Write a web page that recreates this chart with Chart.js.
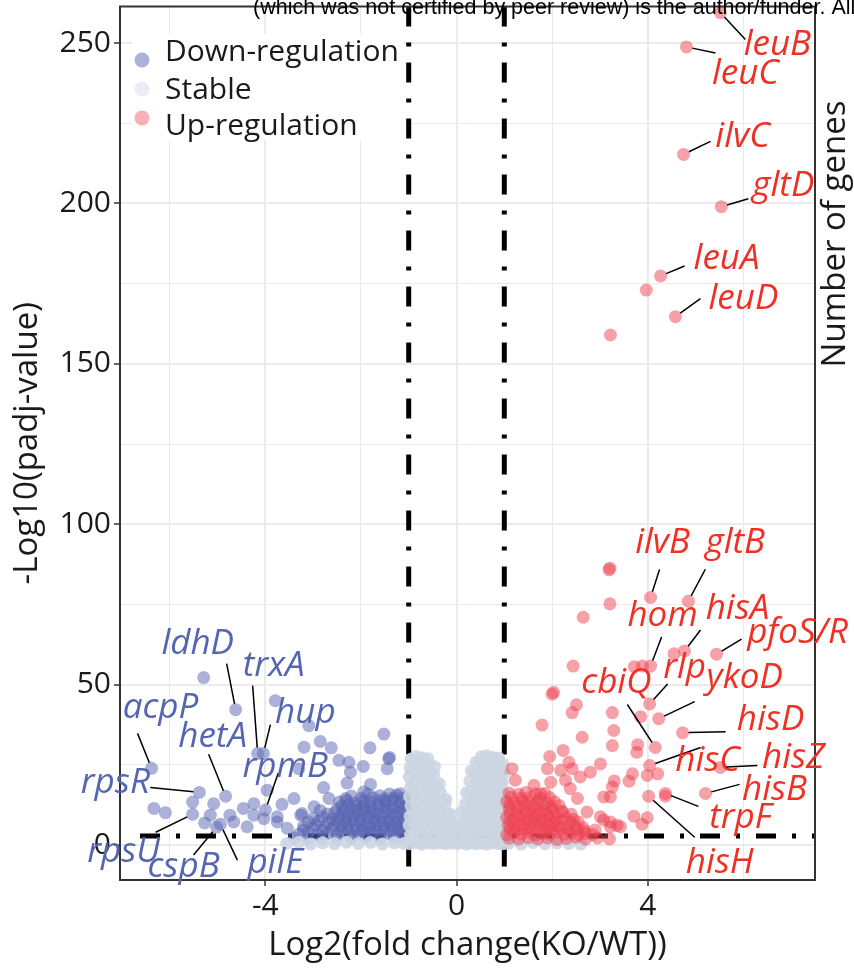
<!DOCTYPE html>
<html>
<head>
<meta charset="utf-8">
<title>Volcano plot KO vs WT</title>
<script src="https://cdn.jsdelivr.net/npm/chart.js@4.4.1/dist/chart.umd.min.js"></script>
<style>
  html, body { margin: 0; padding: 0; background: #fff; }
  #wrap { position: relative; width: 854px; height: 970px; }
</style>
</head>
<body>
<div id="wrap"><canvas id="volcano" width="854" height="970"></canvas></div>
<script>
// axis ticks
const xTicks = [-6, -4, -2, 0, 2, 4, 6];
const yTicks = [0, 25, 50, 75, 100, 125, 150, 175, 200, 225, 250];

// named genes: log2 fold change and -log10(padj)
const geneNames = ['leuB', 'leuC', 'ilvC', 'gltD', 'leuA', 'leuD', 'ilvB', 'gltB', 'hom', 'hisA',
  'pfoS/R', 'rlp', 'ykoD', 'cbiQ', 'hisD', 'hisC', 'hisZ', 'hisB', 'trpF', 'hisH',
  'ldhD', 'trxA', 'hup', 'acpP', 'rpsR', 'hetA', 'rpmB', 'rpsU', 'cspB', 'pilE'];
const geneFC = [5.52, 4.81, 4.75, 5.54, 4.27, 4.58, 4.06, 4.85, 4.06, 4.77,
  5.44, 4.04, 4.23, 4.16, 4.73, 4.04, 5.52, 5.21, 4.37, 4.02,
  -4.62, -4.16, -4.04, -6.38, -5.38, -4.83, -4.00, -5.52, -5.02, -4.94];
const geneLogP = [259.5, 248.8, 215.3, 199.0, 177.4, 164.7, 77.2, 76.0, 55.8, 60.5,
  59.5, 44.0, 39.4, 30.4, 35.0, 24.8, 24.2, 16.1, 16.1, 15.2,
  42.2, 28.5, 28.5, 23.9, 16.4, 15.2, 10.9, 9.6, 5.6, 6.5];

// up-regulated (unnamed)
const upFC = [3.97, 3.22, 3.19, 3.21, 3.21, 2.65, 3.72, 3.89, 4.55,
  2.44, 2.00, 2.03, 2.51, 2.42, 1.79, 3.26, 2.63, 3.29, 3.26, 2.23, 1.95, 2.35, 3.01,
  1.16, 1.90, 2.18, 2.42, 2.80, 1.23, 1.62, 1.97, 2.28, 2.59, 2.38, 1.76, 2.53, 3.08,
  3.22, 2.73, 3.01, 3.22, 3.36, 3.85, 3.79, 3.77, 3.68, 3.61, 3.99, 4.21, 4.37, 3.71,
  3.99, 3.88, 3.08, 3.22, 3.43, 3.30, 3.26,
  1.10, 1.30, 1.50, 1.70, 1.90, 2.10, 2.30, 2.50, 2.70, 2.95, 3.20,
  1.05, 1.20, 1.35, 1.50, 1.65, 1.80, 1.95, 2.10, 2.25, 2.40, 2.55, 2.70, 2.85,
  1.12, 1.28, 1.42, 1.58, 1.72, 1.88, 2.02, 2.18, 2.35, 2.52, 2.68, 2.90,
  1.08, 1.22, 1.38, 1.52, 1.68, 1.83, 1.98, 2.12, 2.30, 2.48, 2.65,
  1.12, 1.28, 1.45, 1.60, 1.75, 1.90, 2.05, 2.20, 2.38, 2.55,
  1.05, 1.20, 1.35, 1.50, 1.65, 1.80, 1.95, 2.10, 2.28, 2.45,
  1.12, 1.28, 1.45, 1.60, 1.75, 1.90, 2.05, 2.22, 2.40,
  1.10, 1.25, 1.40, 1.55, 1.70, 1.85, 2.00, 2.20,
  1.12, 1.30, 1.45, 1.62, 1.80, 1.98, 2.15,
  1.05, 1.20, 1.38, 1.52, 1.70, 1.90, 2.05,
  1.15, 1.35, 1.55, 1.75, 1.95,
  1.10, 1.30, 1.45, 1.65, 1.85];
const upLogP = [173.0, 159.0, 85.8, 86.3, 75.2, 71.0, 55.6, 55.8, 59.6,
  55.8, 47.0, 47.6, 43.7, 41.3, 37.4, 41.3, 33.6, 35.7, 31.0, 29.5, 27.6, 25.8, 25.3,
  23.8, 23.8, 23.3, 23.8, 22.7, 20.2, 18.6, 19.6, 20.2, 21.2, 17.6, 16.0, 14.5, 15.0,
  15.0, 10.3, 8.8, 7.2, 6.2, 40.0, 31.3, 28.9, 22.2, 19.9, 21.7, 22.2, 15.2, 9.0,
  8.5, 6.5, 7.8, 5.7, 5.7, 20.0, 18.1,
  2.1, 1.8, 2.3, 1.9, 2.2, 1.7, 2.0, 2.4, 1.8, 2.2, 1.9,
  3.2, 3.8, 3.4, 3.9, 3.1, 3.6, 3.3, 3.9, 3.4, 3.7, 3.2, 3.6, 3.3,
  4.9, 4.6, 5.1, 4.7, 5.0, 4.5, 4.8, 5.2, 4.6, 4.9, 4.4, 4.7,
  6.1, 5.7, 6.4, 5.9, 6.3, 5.8, 6.2, 6.0, 5.6, 6.1, 5.4,
  7.4, 7.1, 7.6, 7.2, 7.5, 7.0, 7.3, 7.7, 7.1, 7.2,
  8.6, 8.2, 8.9, 8.4, 8.7, 8.1, 8.8, 8.3, 8.6, 8.0,
  9.9, 9.6, 10.1, 9.7, 10.0, 9.5, 9.8, 10.2, 9.6,
  11.2, 10.7, 11.4, 10.9, 11.3, 10.8, 11.1, 10.6,
  12.4, 12.1, 12.6, 12.2, 12.5, 12.0, 12.3,
  13.6, 13.2, 13.8, 13.3, 13.7, 13.1, 13.5,
  14.9, 14.6, 15.0, 14.7, 14.8,
  16.2, 15.8, 16.4, 15.9, 16.1];

// down-regulated (unnamed)
const downFC = [-5.29, -3.79, -6.33, -6.09, -5.52, -5.27, -5.08, -5.15, -4.74, -4.66,
  -4.46, -4.38, -4.24, -4.24, -4.03, -3.96, -3.65, -3.40, -3.23, -3.75, -3.54,
  -3.09, -3.19, -2.85, -2.62, -3.30, -2.78, -2.46, -2.25, -2.22, -1.95, -1.81,
  -1.52, -1.42, -1.40, -1.45, -2.29, -1.80, -1.94, -1.17, -2.67, -2.32, -3.75, -3.26, -2.98,
  -3.40, -3.10, -2.80, -2.50, -2.20, -1.90, -1.60, -1.30, -1.10,
  -3.30, -3.10, -2.90, -2.70, -2.50, -2.35, -2.20, -2.05, -1.90, -1.75, -1.60, -1.45, -1.30, -1.15, -1.05,
  -3.20, -3.00, -2.80, -2.60, -2.42, -2.28, -2.12, -1.98, -1.82, -1.68, -1.52, -1.38, -1.22, -1.10,
  -3.20, -2.95, -2.75, -2.55, -2.40, -2.25, -2.10, -1.95, -1.80, -1.65, -1.50, -1.35, -1.20, -1.07,
  -3.10, -2.88, -2.68, -2.50, -2.33, -2.18, -2.02, -1.88, -1.72, -1.58, -1.42, -1.28, -1.13,
  -3.00, -2.80, -2.60, -2.45, -2.30, -2.15, -2.00, -1.85, -1.70, -1.55, -1.40, -1.25, -1.10,
  -2.70, -2.55, -2.40, -2.25, -2.10, -1.95, -1.80, -1.65, -1.50, -1.35, -1.20, -1.07,
  -2.85, -2.50, -2.35, -2.20, -2.05, -1.90, -1.75, -1.60, -1.45, -1.30, -1.15,
  -2.40, -2.25, -2.10, -1.95, -1.80, -1.65, -1.50, -1.35, -1.20, -1.08,
  -2.45, -2.30, -2.10, -1.95, -1.80, -1.62, -1.48, -1.33, -1.18,
  -2.00, -1.75, -1.50, -1.32, -1.12,
  -2.20, -1.85, -1.60, -1.40, -1.25];
const downLogP = [52.2, 45.0, 11.4, 10.1, 13.4, 6.9, 12.9, 9.3, 9.3, 7.2,
  11.4, 5.7, 12.9, 9.3, 8.2, 17.1, 12.7, 14.5, 9.8, 7.2, 5.2,
  37.2, 30.5, 32.3, 30.3, 23.8, 17.9, 26.4, 25.8, 22.7, 24.5, 30.3,
  34.6, 26.9, 27.3, 23.8, 19.3, 18.9, 16.5, 16.0, 14.5, 14.5, 8.8, 9.3, 11.9,
  2.2, 1.9, 2.3, 1.8, 2.1, 2.4, 1.9, 2.2, 2.0,
  3.4, 3.9, 3.2, 3.7, 3.3, 3.8, 3.1, 3.6, 3.4, 3.9, 3.2, 3.7, 3.3, 3.8, 3.5,
  4.7, 5.0, 4.6, 4.9, 4.5, 5.1, 4.8, 4.6, 5.0, 4.7, 4.9, 4.5, 5.1, 4.8,
  5.8, 6.3, 5.6, 6.2, 5.9, 6.4, 5.7, 6.1, 5.8, 6.3, 5.9, 6.2, 5.7, 6.0,
  7.2, 7.5, 7.0, 7.4, 7.1, 7.6, 7.3, 7.0, 7.5, 7.2, 7.4, 7.1, 7.3,
  8.3, 8.8, 8.1, 8.6, 8.4, 8.9, 8.2, 8.7, 8.3, 8.8, 8.1, 8.6, 8.4,
  9.7, 10.0, 9.6, 9.9, 9.5, 10.1, 9.8, 9.6, 10.0, 9.7, 9.9, 9.8,
  10.8, 11.3, 10.9, 11.4, 10.7, 11.2, 10.8, 11.5, 11.0, 11.3, 10.9,
  12.2, 12.5, 12.1, 12.4, 12.0, 12.6, 12.3, 12.1, 12.5, 12.2,
  13.4, 13.9, 13.2, 13.7, 13.3, 13.8, 13.5, 13.9, 13.4,
  14.5, 14.8, 14.4, 14.7, 14.6,
  15.3, 15.8, 15.4, 15.9, 15.6];

// not significant
const stableFC = [
  -0.98, -0.96, -0.99, -0.97, -0.95, -0.98, -0.96, -0.99, -0.97, -0.95,
  -0.86, -0.88, -0.85, -0.87, -0.84, -0.86, -0.88, -0.85, -0.87, -0.85,
  -0.73, -0.71, -0.74, -0.72, -0.75, -0.73, -0.71, -0.74, -0.72, -0.73,
  -0.60, -0.62, -0.59, -0.61, -0.58, -0.60, -0.62, -0.59, -0.61, -0.60,
  -0.47, -0.45, -0.48, -0.46, -0.49, -0.47, -0.45, -0.48, -0.46,
  -0.34, -0.36, -0.33, -0.35, -0.32, -0.34, -0.36,
  -0.22, -0.20, -0.23, -0.21, -0.24, -0.22,
  -0.10, -0.12, -0.09, -0.11,
  0.02, 0.00, 0.03,
  0.12, 0.10, 0.13, 0.11,
  0.21, 0.23, 0.20, 0.22, 0.19, 0.21,
  0.30, 0.28, 0.31, 0.29, 0.32, 0.30, 0.28, 0.31,
  0.40, 0.42, 0.39, 0.41, 0.38, 0.40, 0.42, 0.39, 0.41,
  0.52, 0.50, 0.53, 0.51, 0.54, 0.52, 0.50, 0.53, 0.51, 0.52,
  0.64, 0.66, 0.63, 0.65, 0.62, 0.64, 0.66, 0.63, 0.65, 0.64,
  0.76, 0.74, 0.77, 0.75, 0.78, 0.76, 0.74, 0.77, 0.75, 0.76,
  0.88, 0.90, 0.87, 0.89, 0.86, 0.88, 0.90, 0.87, 0.89, 0.88,
  0.98, 0.96, 0.99, 0.97, 0.95, 0.98, 0.96, 0.99, 0.97,
  -3.55, -3.30, -3.05, -2.80, -2.55, -2.30, -2.05, -1.80, -1.55, -1.30, -1.10,
  1.10, 1.35, 1.60, 1.85, 2.10, 2.35, 2.60];
const stableLogP = [
  0.4, 3.1, 6.2, 9.0, 12.3, 15.1, 18.0, 21.2, 24.1, 26.8,
  0.8, 3.6, 6.7, 9.8, 12.9, 15.8, 18.7, 21.9, 25.0, 27.6,
  0.3, 3.3, 6.4, 9.4, 12.5, 15.5, 18.4, 21.5, 24.6, 27.2,
  0.6, 3.8, 6.9, 10.1, 13.2, 16.2, 19.4, 22.3, 25.3, 26.9,
  0.5, 3.4, 6.5, 9.7, 12.8, 15.9, 19.0, 22.1, 24.4,
  0.7, 3.9, 7.1, 10.2, 13.3, 16.4, 19.1,
  0.4, 3.5, 6.6, 9.6, 12.7, 14.2,
  0.6, 3.7, 6.8, 9.5,
  0.5, 3.3, 6.4,
  0.8, 3.9, 7.0, 10.4,
  0.3, 3.4, 6.6, 9.7, 12.9, 16.3,
  0.7, 3.8, 7.0, 10.2, 13.4, 16.7, 19.9, 23.1,
  0.4, 3.5, 6.7, 9.9, 13.1, 16.2, 19.5, 22.6, 25.8,
  0.6, 3.7, 6.9, 10.0, 13.2, 16.5, 19.7, 22.9, 26.1, 27.5,
  0.3, 3.4, 6.5, 9.6, 12.8, 16.0, 19.1, 22.3, 25.4, 27.8,
  0.7, 3.8, 7.0, 10.1, 13.3, 16.4, 19.6, 22.8, 25.9, 27.3,
  0.5, 3.5, 6.6, 9.8, 12.9, 16.1, 19.3, 22.5, 25.6, 27.1,
  0.4, 3.6, 6.8, 9.9, 13.0, 16.2, 19.4, 22.4, 25.2,
  0.5, 0.8, 0.3, 0.7, 0.4, 0.9, 0.5, 0.8, 0.3, 0.7, 0.5,
  0.6, 0.3, 0.8, 0.4, 0.7, 0.5, 0.3];

// cut-offs
const fcCut = 1;
const padjCut = 2.8;

// label placement: [text dx, text dy, line end dx, line end dy] in px from the point
const labelOffsets = {
  'leuB': [57, 32, 25, 27], 'leuC': [59, 27, 29, 6], 'ilvC': [59, -17, 27, -13],
  'gltD': [62, -21, 27, -8], 'leuA': [66, -17, 24, -10], 'leuD': [68, -18, 25, -18],
  'ilvB': [12, -54, 9, -28], 'gltB': [47, -58, 17, -32], 'hom': [12, -50, 11, -29],
  'hisA': [53, -42, 16, -21], 'pfoS/R': [81, -21, 25, -15], 'rlp': [35, -36, 18, -20],
  'ykoD': [86, -41, 36, -17], 'cbiQ': [-39, -64, -28, -43], 'hisD': [88, -13, 43, -1],
  'hisC': [58, -4, 51, -18], 'hisZ': [73, -9, 37, -2], 'hisB': [69, -3, 34, -9],
  'trpF': [75, 25, 33, 13], 'hisH': [71, 67, 46, 41],
  'ldhD': [-38, -66, -9, -46], 'trxA': [16, -88, -5, -68], 'hup': [42, -41, 7, -29],
  'acpP': [9, -60, -14, -35], 'rpsR': [-84, -9, -49, -5], 'hetA': [-13, -59, -17, -42],
  'rpmB': [20, -43, 13, -37], 'rpsU': [-69, 38, -37, 18], 'cspB': [-33, 40, -23, 28],
  'pilE': [55, 39, 17, 36]
};

const FONT = '"Open Sans", "DejaVu Sans", sans-serif';
const INK = '#1a1a1a';
const DOWN_COL = 'rgba(88, 100, 178, 0.5)';
const STABLE_COL = 'rgba(204, 214, 226, 0.9)';
const UP_COL = 'rgba(238, 66, 82, 0.5)';

function points(xs, ys) {
  return xs.map((v, i) => ({ x: v, y: ys[i] }));
}

const upPts = points(upFC, upLogP);
const downPts = points(downFC, downLogP);
geneFC.forEach((v, i) => {
  (v > 0 ? upPts : downPts).push({ x: v, y: geneLogP[i] });
});

const overlay = {
  id: 'overlay',
  beforeDatasetsDraw(chart) {
    const { ctx, chartArea: a, scales: { x, y } } = chart;
    ctx.save();
    ctx.beginPath();
    ctx.rect(a.left, a.top, a.right - a.left, a.bottom - a.top);
    ctx.clip();
    ctx.strokeStyle = '#000';
    ctx.lineWidth = 5;
    ctx.setLineDash([20, 16, 4, 16]);
    [-fcCut, fcCut].forEach(v => {
      const px = x.getPixelForValue(v);
      ctx.beginPath();
      ctx.moveTo(px, a.top);
      ctx.lineTo(px, a.bottom);
      ctx.stroke();
    });
    const py = y.getPixelForValue(padjCut);
    ctx.beginPath();
    ctx.moveTo(a.left + 20, py);
    ctx.lineTo(a.right, py);
    ctx.stroke();
    ctx.restore();
  },
  afterDatasetsDraw(chart) {
    const { ctx, chartArea: a, scales: { x, y } } = chart;
    ctx.save();

    // panel border
    ctx.strokeStyle = '#333';
    ctx.lineWidth = 2;
    ctx.strokeRect(a.left, a.top, a.right - a.left, a.bottom - a.top);

    // gene labels with leader lines
    ctx.font = 'italic 35px ' + FONT;
    ctx.textAlign = 'center';
    ctx.textBaseline = 'middle';
    geneNames.forEach((name, i) => {
      const off = labelOffsets[name];
      const px = x.getPixelForValue(geneFC[i]);
      const py = y.getPixelForValue(geneLogP[i]);
      const len = Math.hypot(off[2], off[3]);
      ctx.strokeStyle = '#000';
      ctx.lineWidth = 1.5;
      ctx.beginPath();
      ctx.moveTo(px + off[2] / len * 6, py + off[3] / len * 6);
      ctx.lineTo(px + off[2], py + off[3]);
      ctx.stroke();
      ctx.fillStyle = geneFC[i] > 0 ? '#ee3124' : '#5566b0';
      ctx.fillText(name, px + off[0], py + off[1]);
    });

    // legend
    ctx.fillStyle = '#fff';
    ctx.fillRect(132, 34, 272, 106);
    const legend = [['Down-regulation', DOWN_COL, 60, 52], ['Stable', 'rgba(220, 226, 236, 0.6)', 89, 90], ['Up-regulation', 'rgba(238, 66, 82, 0.42)', 118, 126]];
    ctx.font = '30px ' + FONT;
    ctx.textAlign = 'left';
    legend.forEach(([label, col, cy, ty]) => {
      ctx.fillStyle = col;
      ctx.beginPath();
      ctx.arc(142, cy, 7.5, 0, Math.PI * 2);
      ctx.fill();
      ctx.fillStyle = INK;
      ctx.fillText(label, 165, ty);
    });

    // right-hand neighbour axis title
    ctx.save();
    ctx.translate(836, 234);
    ctx.rotate(-Math.PI / 2);
    ctx.textAlign = 'center';
    ctx.fillStyle = INK;
    ctx.font = '33px ' + FONT;
    ctx.fillText('Number of genes', 0, 0);
    ctx.restore();

    // preprint notice along the top edge
    ctx.fillStyle = '#000';
    ctx.font = '21.5px "Liberation Sans", Arial, sans-serif';
    ctx.textAlign = 'left';
    ctx.textBaseline = 'alphabetic';
    ctx.fillText('(which was not certified by peer review) is the author/funder. All', 253, 14);
    ctx.restore();
  }
};

new Chart(document.getElementById('volcano'), {
  type: 'scatter',
  data: {
    datasets: [
      { label: 'Up-regulation', data: upPts, backgroundColor: UP_COL },
      { label: 'Stable', data: points(stableFC, stableLogP), backgroundColor: STABLE_COL },
      { label: 'Down-regulation', data: downPts, backgroundColor: DOWN_COL }
    ]
  },
  options: {
    responsive: false,
    animation: false,
    devicePixelRatio: 1,
    layout: { padding: { left: 0, right: 39, top: 4, bottom: 0 } },
    elements: { point: { radius: 6.5, borderWidth: 0, hoverRadius: 6.5 } },
    plugins: { legend: { display: false }, tooltip: { enabled: false } },
    scales: {
      x: {
        type: 'linear',
        min: -7.04,
        max: 7.5,
        afterBuildTicks: s => { s.ticks = xTicks.map(v => ({ value: v })); },
        afterFit: s => { s.height = 90; s.paddingLeft = 0; s.paddingRight = 0; },
        border: { display: false },
        grid: {
          color: '#ebebeb',
          lineWidth: c => (c.tick && c.tick.value % 4 === 0 ? 2 : 1),
          tickLength: 6,
          tickWidth: 1.5,
          tickColor: c => (c.tick && c.tick.value % 4 === 0 ? '#333' : 'rgba(0,0,0,0)')
        },
        ticks: {
          autoSkip: false,
          maxRotation: 0,
          padding: 2,
          color: INK,
          font: { family: FONT, size: 30 },
          callback: v => (v % 4 === 0 ? String(v) : '')
        },
        title: {
          display: true,
          text: 'Log2(fold change(KO/WT))',
          color: INK,
          font: { family: FONT, size: 33 },
          padding: { top: 0, bottom: 5 }
        }
      },
      y: {
        type: 'linear',
        min: -10.9,
        max: 261.4,
        afterBuildTicks: s => { s.ticks = yTicks.map(v => ({ value: v })); },
        afterFit: s => { s.width = 120; s.paddingTop = 0; s.paddingBottom = 0; },
        border: { display: false },
        grid: {
          color: '#ebebeb',
          lineWidth: c => (c.tick && c.tick.value % 50 === 0 ? 2 : 1),
          tickLength: 6,
          tickWidth: 1.5,
          tickColor: c => (c.tick && c.tick.value % 50 === 0 ? '#333' : 'rgba(0,0,0,0)')
        },
        ticks: {
          autoSkip: false,
          padding: 3,
          color: INK,
          font: { family: FONT, size: 30 },
          callback: v => (v % 50 === 0 ? String(v) : '')
        },
        title: {
          display: true,
          text: '-Log10(padj-value)',
          color: INK,
          font: { family: FONT, size: 33 },
          padding: { top: 8, bottom: 0 }
        }
      }
    }
  },
  plugins: [overlay]
});
</script>
</body>
</html>
